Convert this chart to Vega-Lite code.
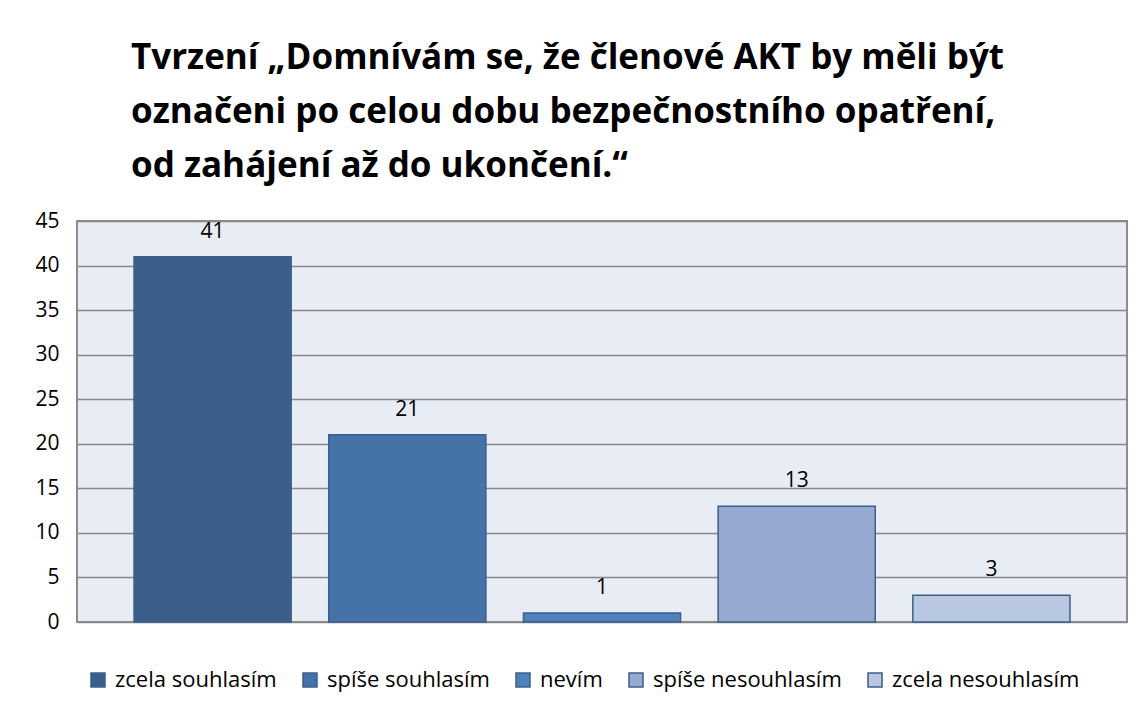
{
  "$schema": "https://vega.github.io/schema/vega-lite/v6.json",
  "width": 1050,
  "height": 401,
  "autosize": "none",
  "padding": {"left": 77, "top": 221, "right": 19, "bottom": 91},
  "background": "white",
  "title": {
    "text": ["Tvrzení „Domnívám se, že členové AKT by měli být", "označeni po celou dobu bezpečnostního opatření,", "od zahájení až do ukončení.“"],
    "anchor": "start",
    "frame": "group",
    "dx": 54,
    "font": "Open Sans",
    "fontWeight": "bold",
    "fontSize": 35,
    "lineHeight": 54,
    "color": "black",
    "offset": 26
  },
  "data": {
    "values": [
      {"odpoved": "zcela souhlasím", "pocet": 41},
      {"odpoved": "spíše souhlasím", "pocet": 21},
      {"odpoved": "nevím", "pocet": 1},
      {"odpoved": "spíše nesouhlasím", "pocet": 13},
      {"odpoved": "zcela nesouhlasím", "pocet": 3}
    ]
  },
  "config": {
    "view": {"fill": "#E8ECF4", "stroke": "#8C8C8C", "strokeWidth": 2},
    "font": "Open Sans"
  },
  "encoding": {
    "x": {
      "field": "odpoved",
      "type": "nominal",
      "sort": null,
      "axis": null,
      "scale": {"paddingInner": 0.193, "paddingOuter": 0.293}
    },
    "y": {
      "field": "pocet",
      "type": "quantitative",
      "scale": {"domain": [0, 45], "nice": false},
      "axis": {
        "title": null,
        "values": [0, 5, 10, 15, 20, 25, 30, 35, 40, 45],
        "grid": true,
        "gridColor": "#878787",
        "gridWidth": 1.5,
        "ticks": false,
        "domain": false,
        "labelFont": "Open Sans",
        "labelFontSize": 21,
        "labelColor": "black",
        "labelPadding": 18
      }
    }
  },
  "layer": [
    {
      "mark": {"type": "bar", "stroke": "#3A5F8C", "strokeWidth": 1.5},
      "encoding": {
        "color": {
          "field": "odpoved",
          "type": "nominal",
          "sort": null,
          "scale": {
            "domain": ["zcela souhlasím", "spíše souhlasím", "nevím", "spíše nesouhlasím", "zcela nesouhlasím"],
            "range": ["#3A5F8B", "#4573A8", "#4F81BD", "#95A9D1", "#B9C7E1"]
          },
          "legend": {
            "title": null,
            "orient": "none",
            "direction": "horizontal",
            "legendX": 10,
            "legendY": 448,
            "symbolType": "square",
            "symbolSize": 196,
            "symbolStrokeColor": "#3A5F8C",
            "symbolStrokeWidth": 1.5,
            "symbolOpacity": 1,
            "labelFont": "Open Sans",
            "labelFontSize": 22,
            "labelColor": "black",
            "labelOffset": 6,
            "columnPadding": 22,
            "labelLimit": 400
          }
        }
      }
    },
    {
      "mark": {"type": "text", "baseline": "alphabetic", "dy": -19, "fontSize": 21, "font": "Open Sans", "color": "black"},
      "encoding": {
        "text": {"field": "pocet", "type": "quantitative"}
      }
    }
  ]
}
